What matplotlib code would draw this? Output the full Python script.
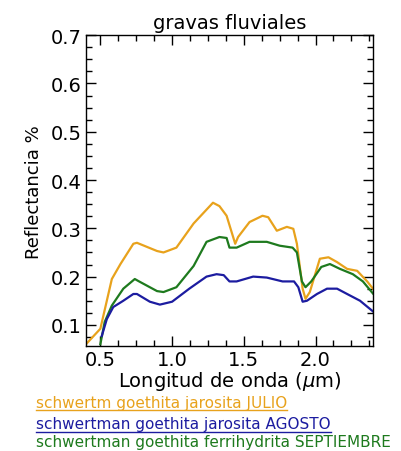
import matplotlib
matplotlib.use("Agg")
import matplotlib.pyplot as plt
from matplotlib.ticker import MultipleLocator
from matplotlib.lines import Line2D

# wavelengths (um) and reflectance
wl_julio = [0.40, 0.50, 0.58, 0.64, 0.73, 0.755, 0.895, 0.94, 1.03, 1.15, 1.285, 1.33,
            1.38, 1.44, 1.46, 1.54, 1.63, 1.67, 1.73, 1.80, 1.845, 1.87, 1.91, 1.93,
            1.96, 2.03, 2.09, 2.15, 2.22, 2.29, 2.36, 2.40]
ref_julio = [0.060, 0.092, 0.195, 0.226, 0.268, 0.270, 0.253, 0.250, 0.260, 0.310, 0.353, 0.346,
             0.326, 0.268, 0.282, 0.313, 0.326, 0.323, 0.295, 0.303, 0.299, 0.268, 0.175, 0.154,
             0.168, 0.237, 0.240, 0.230, 0.216, 0.212, 0.190, 0.175]

wl_agosto = [0.51, 0.545, 0.59, 0.66, 0.73, 0.755, 0.845, 0.915, 1.00, 1.12, 1.24, 1.31,
             1.36, 1.40, 1.45, 1.565, 1.66, 1.77, 1.85, 1.88, 1.91, 1.94, 2.01, 2.08,
             2.15, 2.22, 2.31, 2.40]
ref_agosto = [0.077, 0.112, 0.137, 0.150, 0.164, 0.164, 0.148, 0.142, 0.148, 0.175, 0.200, 0.205,
              0.203, 0.190, 0.190, 0.200, 0.198, 0.190, 0.190, 0.178, 0.148, 0.150, 0.164, 0.175,
              0.175, 0.164, 0.150, 0.128]

wl_sept = [0.50, 0.53, 0.58, 0.66, 0.74, 0.77, 0.895, 0.94, 1.03, 1.15, 1.24, 1.33,
           1.38, 1.40, 1.45, 1.54, 1.66, 1.75, 1.84, 1.87, 1.905, 1.93, 1.97, 2.04,
           2.10, 2.17, 2.26, 2.33, 2.40]
ref_sept = [0.060, 0.106, 0.140, 0.175, 0.195, 0.190, 0.170, 0.168, 0.178, 0.222, 0.272, 0.282,
            0.280, 0.260, 0.260, 0.272, 0.272, 0.264, 0.260, 0.250, 0.190, 0.178, 0.190, 0.220,
            0.226, 0.216, 0.205, 0.190, 0.165]

labels = ["schwertm goethita jarosita JULIO",
          "schwertman goethita jarosita AGOSTO",
          "schwertman goethita ferrihydrita SEPTIEMBRE"]
colors = ["#e8a21c", "#1c1ca0", "#1e7a1e"]

fig = plt.figure(figsize=(4.01, 4.52), dpi=100)
ax = fig.add_axes([0.2145, 0.232, 0.7155, 0.688])

ax.plot(wl_julio, ref_julio, color=colors[0], lw=1.6)
ax.plot(wl_sept, ref_sept, color=colors[2], lw=1.6)
ax.plot(wl_agosto, ref_agosto, color=colors[1], lw=1.6)

ax.set_xlim(0.4, 2.4)
ax.set_ylim(0.056, 0.7)
ax.xaxis.set_major_locator(MultipleLocator(0.5))
ax.xaxis.set_minor_locator(MultipleLocator(0.125))
ax.yaxis.set_major_locator(MultipleLocator(0.1))
ax.yaxis.set_minor_locator(MultipleLocator(0.025))
ax.xaxis.set_major_formatter(plt.FuncFormatter(lambda v, p: f"{v:.1f}"))
ax.yaxis.set_major_formatter(plt.FuncFormatter(lambda v, p: f"{v:.1f}"))
ax.tick_params(which="both", direction="in", top=True, right=True, width=1, colors="black")
ax.tick_params(which="major", length=7, labelsize=14, pad=3)
ax.tick_params(which="minor", length=4)
for s in ax.spines.values():
    s.set_linewidth(1)

ax.set_title("gravas fluviales", fontsize=14, pad=5)
ax.set_xlabel("Longitud de onda ($\\mu$m)", fontsize=14, labelpad=0)
ax.set_ylabel("Reflectancia %", fontsize=13, labelpad=6)

# legend text lines, first two underlined like the original
ys = [0.098, 0.050, 0.012]
fig.canvas.draw()
r = fig.canvas.get_renderer()
for i, (lab, c, yy) in enumerate(zip(labels, colors, ys)):
    t = fig.text(0.09, yy, lab, color=c, fontsize=11, va="baseline", ha="left")
    if i < 2:
        bb = t.get_window_extent(r).transformed(fig.transFigure.inverted())
        fig.add_artist(Line2D([bb.x0, bb.x1], [yy - 0.008, yy - 0.008], color=c, lw=1))

fig.savefig("out.png", dpi=100)
